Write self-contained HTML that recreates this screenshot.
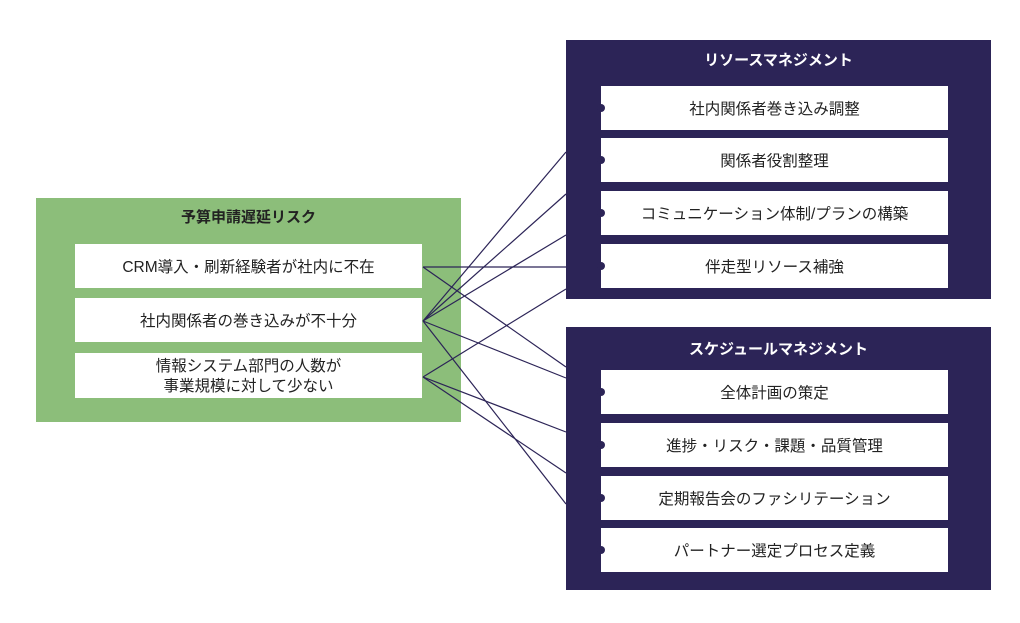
<html><head><style>
body{margin:0;width:1020px;height:623px;background:#fff;position:relative;font-family:"Liberation Sans","Noto Sans CJK JP",sans-serif;overflow:hidden}
.b{position:absolute}
.it{position:absolute;background:#fff;display:flex;align-items:center;justify-content:center;text-align:center;font-size:15.5px;color:#222;line-height:20px;box-sizing:border-box;padding-top:4px}
.t{position:absolute;font-weight:bold;font-size:15px;text-align:center}
.d{position:absolute;width:8px;height:8px;border-radius:50%;background:#2c2457}
</style></head><body>
<div class="b" style="left:36px;top:198px;width:425px;height:224px;background:#8cbe7a"></div>
<div class="t" style="left:36px;top:206px;width:425px;color:#222">予算申請遅延リスク</div>
<div class="it" style="left:75px;top:244px;width:347px;height:44px">CRM導入・刷新経験者が社内に不在</div>
<div class="it" style="left:75px;top:298px;width:347px;height:44px">社内関係者の巻き込みが不十分</div>
<div class="it" style="left:75px;top:353px;width:347px;height:45px;padding-top:2px">情報システム部門の人数が<br>事業規模に対して少ない</div>

<div class="b" style="left:566px;top:40px;width:425px;height:259px;background:#2c2457"></div>
<div class="t" style="left:566px;top:49px;width:425px;color:#fff">リソースマネジメント</div>
<div class="it" style="left:601px;top:86px;width:347px;height:44px">社内関係者巻き込み調整</div>
<div class="it" style="left:601px;top:138px;width:347px;height:44px">関係者役割整理</div>
<div class="it" style="left:601px;top:191px;width:347px;height:44px">コミュニケーション体制/プランの構築</div>
<div class="it" style="left:601px;top:244px;width:347px;height:44px">伴走型リソース補強</div>

<div class="b" style="left:566px;top:327px;width:425px;height:263px;background:#2c2457"></div>
<div class="t" style="left:566px;top:338px;width:425px;color:#fff">スケジュールマネジメント</div>
<div class="it" style="left:601px;top:370px;width:347px;height:44px">全体計画の策定</div>
<div class="it" style="left:601px;top:423px;width:347px;height:44px">進捗・リスク・課題・品質管理</div>
<div class="it" style="left:601px;top:476px;width:347px;height:44px">定期報告会のファシリテーション</div>
<div class="it" style="left:601px;top:528px;width:347px;height:44px">パートナー選定プロセス定義</div>

<div class="d" style="left:597px;top:104px"></div>
<div class="d" style="left:597px;top:156px"></div>
<div class="d" style="left:597px;top:209px"></div>
<div class="d" style="left:597px;top:262px"></div>
<div class="d" style="left:597px;top:388px"></div>
<div class="d" style="left:597px;top:441px"></div>
<div class="d" style="left:597px;top:494px"></div>
<div class="d" style="left:597px;top:546px"></div>

<svg class="b" style="left:0;top:0" width="1020" height="623">
<g stroke="#2c2457" stroke-width="1.2" fill="none">
<line x1="423" y1="267" x2="566" y2="267"/>
<line x1="423" y1="267" x2="566" y2="367"/>
<line x1="423" y1="321" x2="566" y2="152"/>
<line x1="423" y1="321" x2="566" y2="194"/>
<line x1="423" y1="321" x2="566" y2="235"/>
<line x1="423" y1="321" x2="566" y2="378"/>
<line x1="423" y1="321" x2="566" y2="504"/>
<line x1="423" y1="377" x2="566" y2="289"/>
<line x1="423" y1="377" x2="566" y2="432"/>
<line x1="423" y1="377" x2="566" y2="473"/>
</g></svg>
</body></html>
